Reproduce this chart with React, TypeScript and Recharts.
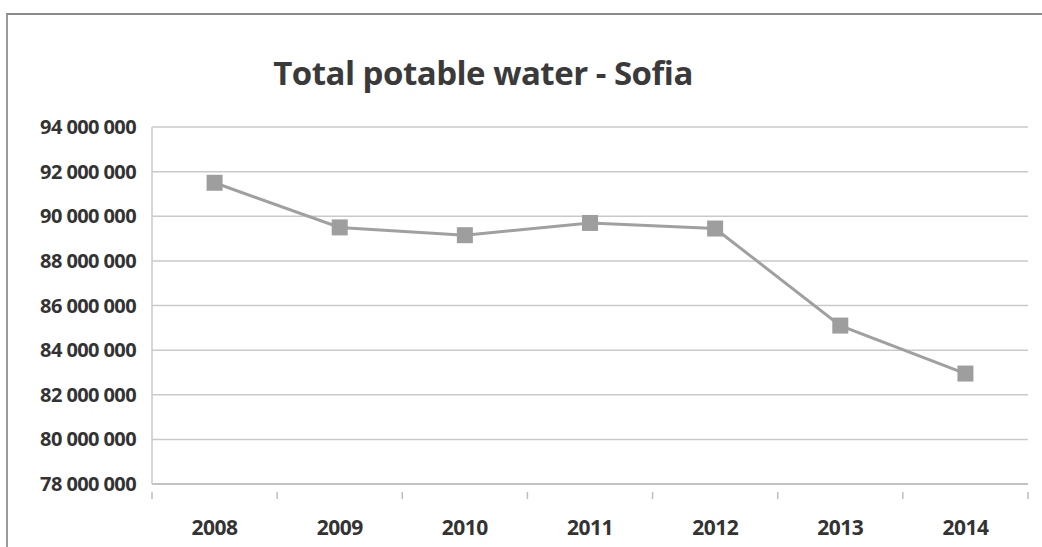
import { LineChart, Line, XAxis, YAxis, CartesianGrid } from "recharts";

const years = ["2008", "2009", "2010", "2011", "2012", "2013", "2014"];
const water = [91500000, 89500000, 89150000, 89700000, 89450000, 85100000, 82950000];
const yTicks = [78000000, 80000000, 82000000, 84000000, 86000000, 88000000, 90000000, 92000000, 94000000];

const data = years.map((year, i) => ({ year, water: water[i] }));

const W = 1042;
const H = 547;
const X_H = 63;
const M = { top: 127, right: 14, bottom: 0, left: 0 };
const Y_W = 152;
const BAND = (W - M.left - M.right - Y_W) / years.length;
const FONT = "'Open Sans', sans-serif";

const fmt = (v: number) => v.toString().replace(/\B(?=(\d{3})+(?!\d))/g, " ");

function XTick(props: any) {
  const { x, y, payload, index } = props;
  const left = x - BAND / 2;
  return (
    <g>
      <line x1={left} y1={y} x2={left} y2={y + 7} stroke="#bdbdbd" strokeWidth={1.5} />
      {index === years.length - 1 && (
        <line x1={left + BAND} y1={y} x2={left + BAND} y2={y + 7} stroke="#bdbdbd" strokeWidth={1.5} />
      )}
      <text x={x} y={y + 43} textAnchor="middle" fontFamily={FONT} fontWeight="bold" fontSize={21} fill="#333" letterSpacing={-0.5}>
        {payload.value}
      </text>
    </g>
  );
}

function Marker(props: any) {
  const { cx, cy, index } = props;
  return <rect key={`m-${index}`} x={cx - 8} y={cy - 8} width={16} height={16} fill="#9e9e9e" />;
}

export default function App() {
  return (
    <div style={{ position: "absolute", left: 0, top: 0, width: W, height: H, background: "#fff" }}>
      <div
        style={{
          position: "absolute",
          left: 6,
          top: 13,
          width: W - 6,
          height: H - 13,
          borderTop: "2px solid #8a8a8a",
          borderLeft: "2px solid #9a9a9a",
        }}
      />
      <div
        style={{
          position: "absolute",
          left: 0,
          width: 966,
          top: 50,
          textAlign: "center",
          fontFamily: FONT,
          fontWeight: "bold",
          fontSize: 33,
          color: "#3a3a3a",
          letterSpacing: -0.5,
        }}
      >
        Total potable water - Sofia
      </div>
      <LineChart width={W} height={H} data={data} margin={M} style={{ position: "absolute", left: 0, top: 0 }}>
        <CartesianGrid vertical={false} stroke="#c9c9c9" strokeWidth={1.5} />
        <XAxis
          dataKey="year"
          scale="band"
          axisLine={{ stroke: "#bdbdbd", strokeWidth: 1.5 }}
          tickLine={false}
          tick={<XTick />}
          interval={0}
          height={X_H}
        />
        <YAxis
          width={Y_W}
          domain={[78000000, 94000000]}
          ticks={yTicks}
          tickFormatter={fmt}
          axisLine={{ stroke: "#c9c9c9", strokeWidth: 1.5 }}
          tickLine={false}
          tickSize={0}
          tickMargin={16}
          tick={{ fontFamily: FONT, fontWeight: "bold", fontSize: 20, fill: "#333", letterSpacing: -0.6 }}
        />
        <Line
          dataKey="water"
          stroke="#a0a0a0"
          strokeWidth={3}
          dot={<Marker />}
          activeDot={false}
          isAnimationActive={false}
        />
      </LineChart>
    </div>
  );
}
